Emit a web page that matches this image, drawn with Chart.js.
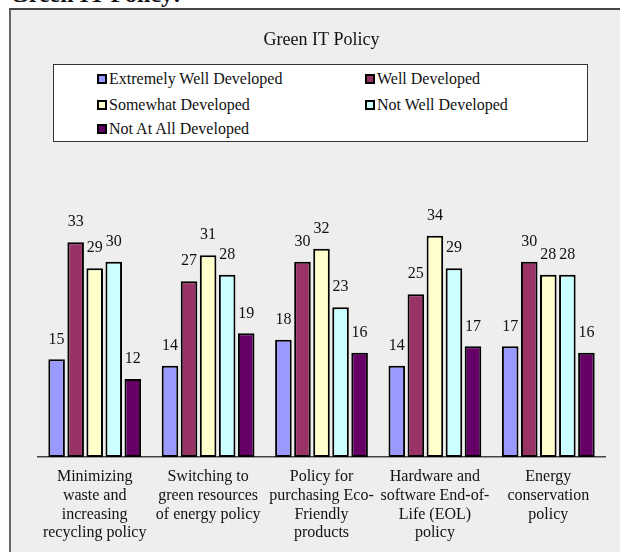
<!DOCTYPE html>
<html>
<head>
<meta charset="utf-8">
<title>Green IT Policy</title>
<script src="https://cdn.jsdelivr.net/npm/chart.js@4.4.1/dist/chart.umd.min.js"></script>
<style>
  html, body { margin: 0; padding: 0; background: #fff; }
  body { width: 620px; height: 552px; position: relative; overflow: hidden;
         font-family: "Liberation Serif", "Times New Roman", serif; color: #111; }
  #heading { position: absolute; left: 10px; top: -20px; font-size: 24px; font-weight: bold; line-height: 28px; }
  #frame { position: absolute; left: 9px; top: 8px; width: 640px; height: 600px;
           background: #eeeeee; border-top: 2px solid #444; border-left: 2px solid #666; }
  #chart { position: absolute; left: 0; top: 0; }
  #legend { position: absolute; left: 53px; top: 64px; width: 533px; height: 76px;
            background: #fff; border: 1px solid #333; }
  .item { position: absolute; display: flex; align-items: center; font-size: 16px; line-height: 18px; white-space: nowrap; }
  .swatch { width: 10px; height: 10px; box-sizing: border-box; border: 2px solid #000; margin-right: 2px; }
</style>
</head>
<body>
<div id="heading">Green IT Policy:</div>
<div id="frame"></div>
<canvas id="chart" width="620" height="552"></canvas>
<div id="legend"></div>

<script>
// Categories (x axis, multi-line)
const categories = [
    ['Minimizing', 'waste and', 'increasing', 'recycling policy'],
    ['Switching to', 'green resources', 'of energy policy'],
    ['Policy for', 'purchasing Eco-', 'Friendly', 'products'],
    ['Hardware and', 'software End-of-', 'Life (EOL)', 'policy'],
    ['Energy', 'conservation', 'policy']
];

// Series
const seriesNames = ['Extremely Well Developed', 'Well Developed', 'Somewhat Developed', 'Not Well Developed', 'Not At All Developed'];
const seriesColors = ['#9999ff', '#993366', '#ffffcc', '#ccffff', '#660066'];
const extremelyWell = [15, 14, 18, 14, 17];
const wellDeveloped = [33, 27, 30, 25, 30];
const somewhatDeveloped = [29, 31, 32, 34, 28];
const notWellDeveloped = [30, 28, 23, 29, 28];
const notAtAllDeveloped = [12, 19, 16, 17, 16];
const seriesValues = [extremelyWell, wellDeveloped, somewhatDeveloped, notWellDeveloped, notAtAllDeveloped];

const serif = '"Liberation Serif", "Times New Roman", serif';

// Draw value labels above each bar
const valueLabels = {
    id: 'valueLabels',
    afterDatasetsDraw(chart) {
        const ctx = chart.ctx;
        ctx.save();
        ctx.font = '16px ' + serif;
        ctx.fillStyle = '#111';
        ctx.textAlign = 'center';
        ctx.textBaseline = 'middle';
        chart.data.datasets.forEach((ds, i) => {
            chart.getDatasetMeta(i).data.forEach((bar, j) => {
                ctx.fillText(ds.data[j], bar.x, bar.y - 20);
            });
        });
        ctx.restore();
    }
};

const chart = new Chart(document.getElementById('chart'), {
    type: 'bar',
    data: {
        labels: categories,
        datasets: seriesNames.map((name, i) => ({
            label: name,
            data: seriesValues[i],
            backgroundColor: seriesColors[i],
            borderColor: '#000',
            borderWidth: 2,
            borderSkipped: false,
            categoryPercentage: 0.84,
            barPercentage: 0.87
        }))
    },
    options: {
        responsive: false,
        animation: false,
        layout: { padding: { top: 10, left: 38, right: 15, bottom: 0 } },
        plugins: {
            title: {
                display: true,
                text: 'Green IT Policy',
                color: '#111',
                font: { family: serif, size: 18, weight: 'normal' },
                padding: { top: 19, bottom: 146 }
            },
            legend: { display: false },
            tooltip: { enabled: false }
        },
        scales: {
            x: {
                grid: { display: false, drawTicks: false },
                border: { display: true, color: '#444', width: 1.5 },
                ticks: {
                    color: '#111',
                    font: { family: serif, size: 16, lineHeight: 1.16 },
                    padding: 11,
                    autoSkip: false,
                    maxRotation: 0
                },
                afterFit(scale) { scale.height = 95; }
            },
            y: { display: false, min: 0, max: 40 }
        }
    },
    plugins: [valueLabels]
});

// HTML legend in two columns
const legendEl = document.getElementById('legend');
const colX = [43, 311];
const rowY = [5, 31, 55];
chart.data.datasets.forEach((ds, i) => {
    const item = document.createElement('div');
    item.className = 'item';
    item.style.left = colX[i % 2] + 'px';
    item.style.top = rowY[Math.floor(i / 2)] + 'px';
    const sw = document.createElement('span');
    sw.className = 'swatch';
    sw.style.background = ds.backgroundColor;
    item.appendChild(sw);
    item.appendChild(document.createTextNode(ds.label));
    legendEl.appendChild(item);
});
</script>
</body>
</html>
